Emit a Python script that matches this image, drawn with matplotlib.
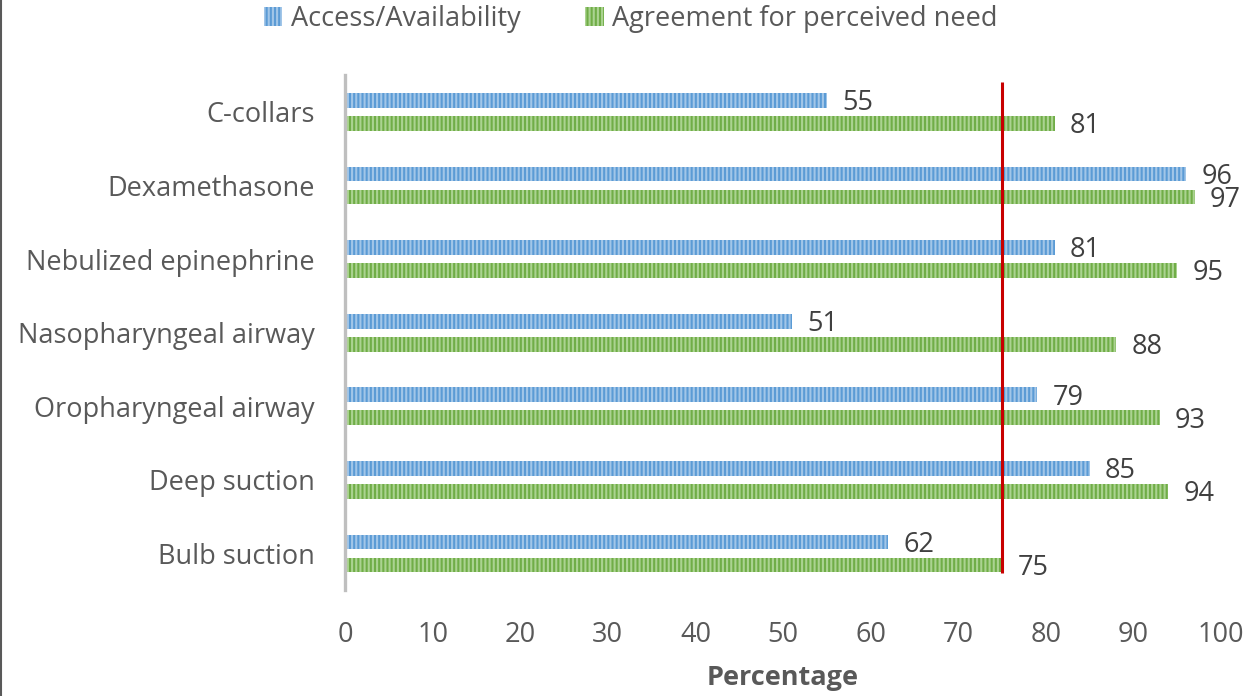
import matplotlib
matplotlib.use("Agg")
import matplotlib.pyplot as plt
from matplotlib.lines import Line2D
import numpy as np

plt.rcParams["font.family"] = ["Open Sans", "DejaVu Sans"]
plt.rcParams["hatch.linewidth"] = 1.5

categories = ["C-collars", "Dexamethasone", "Nebulized epinephrine",
              "Nasopharyngeal airway", "Oropharyngeal airway",
              "Deep suction", "Bulb suction"]
access = [55, 96, 81, 51, 79, 85, 62]
agreement = [81, 97, 95, 88, 93, 94, 75]
threshold = 75
series_names = ["Access/Availability", "Agreement for perceived need"]
xticks = list(range(0, 101, 10))

text_color = "#595959"
blue, blue_light = "#5B9BD5", "#A2C6E8"
green, green_light = "#70AD47", "#ABD391"
fs = 19.5

fig = plt.figure(figsize=(12.49, 6.96), dpi=100)
ax = fig.add_axes([0.2762, 0.152, 0.7014, 0.740])

y = np.arange(len(categories))
h = 0.2
off = 0.156

b1 = ax.barh(y - off, access, height=h, color=blue, edgecolor=blue_light,
             linewidth=0, hatch="||||", label=series_names[0])
b2 = ax.barh(y + off, agreement, height=h, color=green, edgecolor=green_light,
             linewidth=0, hatch="||||", label=series_names[1])

for bars, vals in ((b1, access), (b2, agreement)):
    for rect, v in zip(bars, vals):
        ax.annotate(f"{v}", (v, rect.get_y() + rect.get_height() / 2),
                    xytext=(11, -2), textcoords="offset points",
                    ha="left", va="center", fontsize=fs, color="#404040")

ax.plot([threshold, threshold], [-0.41, 6.26], color="#C80000", lw=2.2,
        solid_capstyle="butt", zorder=4)

ax.set_xlim(0, 100)
ax.set_ylim(len(categories) - 0.5, -0.5)
ax.set_yticks(y)
ax.set_yticklabels(categories)
ax.set_xticks(xticks)
ax.tick_params(axis="y", length=0, pad=22, labelsize=fs, labelcolor=text_color)
ax.tick_params(axis="x", length=0, pad=22, labelsize=fs, labelcolor=text_color)

for s in ("top", "right", "bottom"):
    ax.spines[s].set_visible(False)
ax.spines["left"].set_color("#BFBFBF")
ax.spines["left"].set_linewidth(2.4)

ax.set_xlabel("Percentage", fontsize=fs, fontweight="bold", color=text_color,
              labelpad=12)

leg = fig.legend(handles=[b1, b2], loc="center", bbox_to_anchor=(0.505, 0.973),
                 ncol=2, frameon=False, fontsize=fs, handlelength=0.7,
                 handleheight=0.7, handletextpad=0.3, columnspacing=2.4)
for t in leg.get_texts():
    t.set_color(text_color)

# thin frame edge on the left side of the figure
fig.add_artist(Line2D([0.001, 0.001], [0, 1], transform=fig.transFigure,
                      color="#595959", lw=1.5))

fig.savefig("out.png", dpi=100)
